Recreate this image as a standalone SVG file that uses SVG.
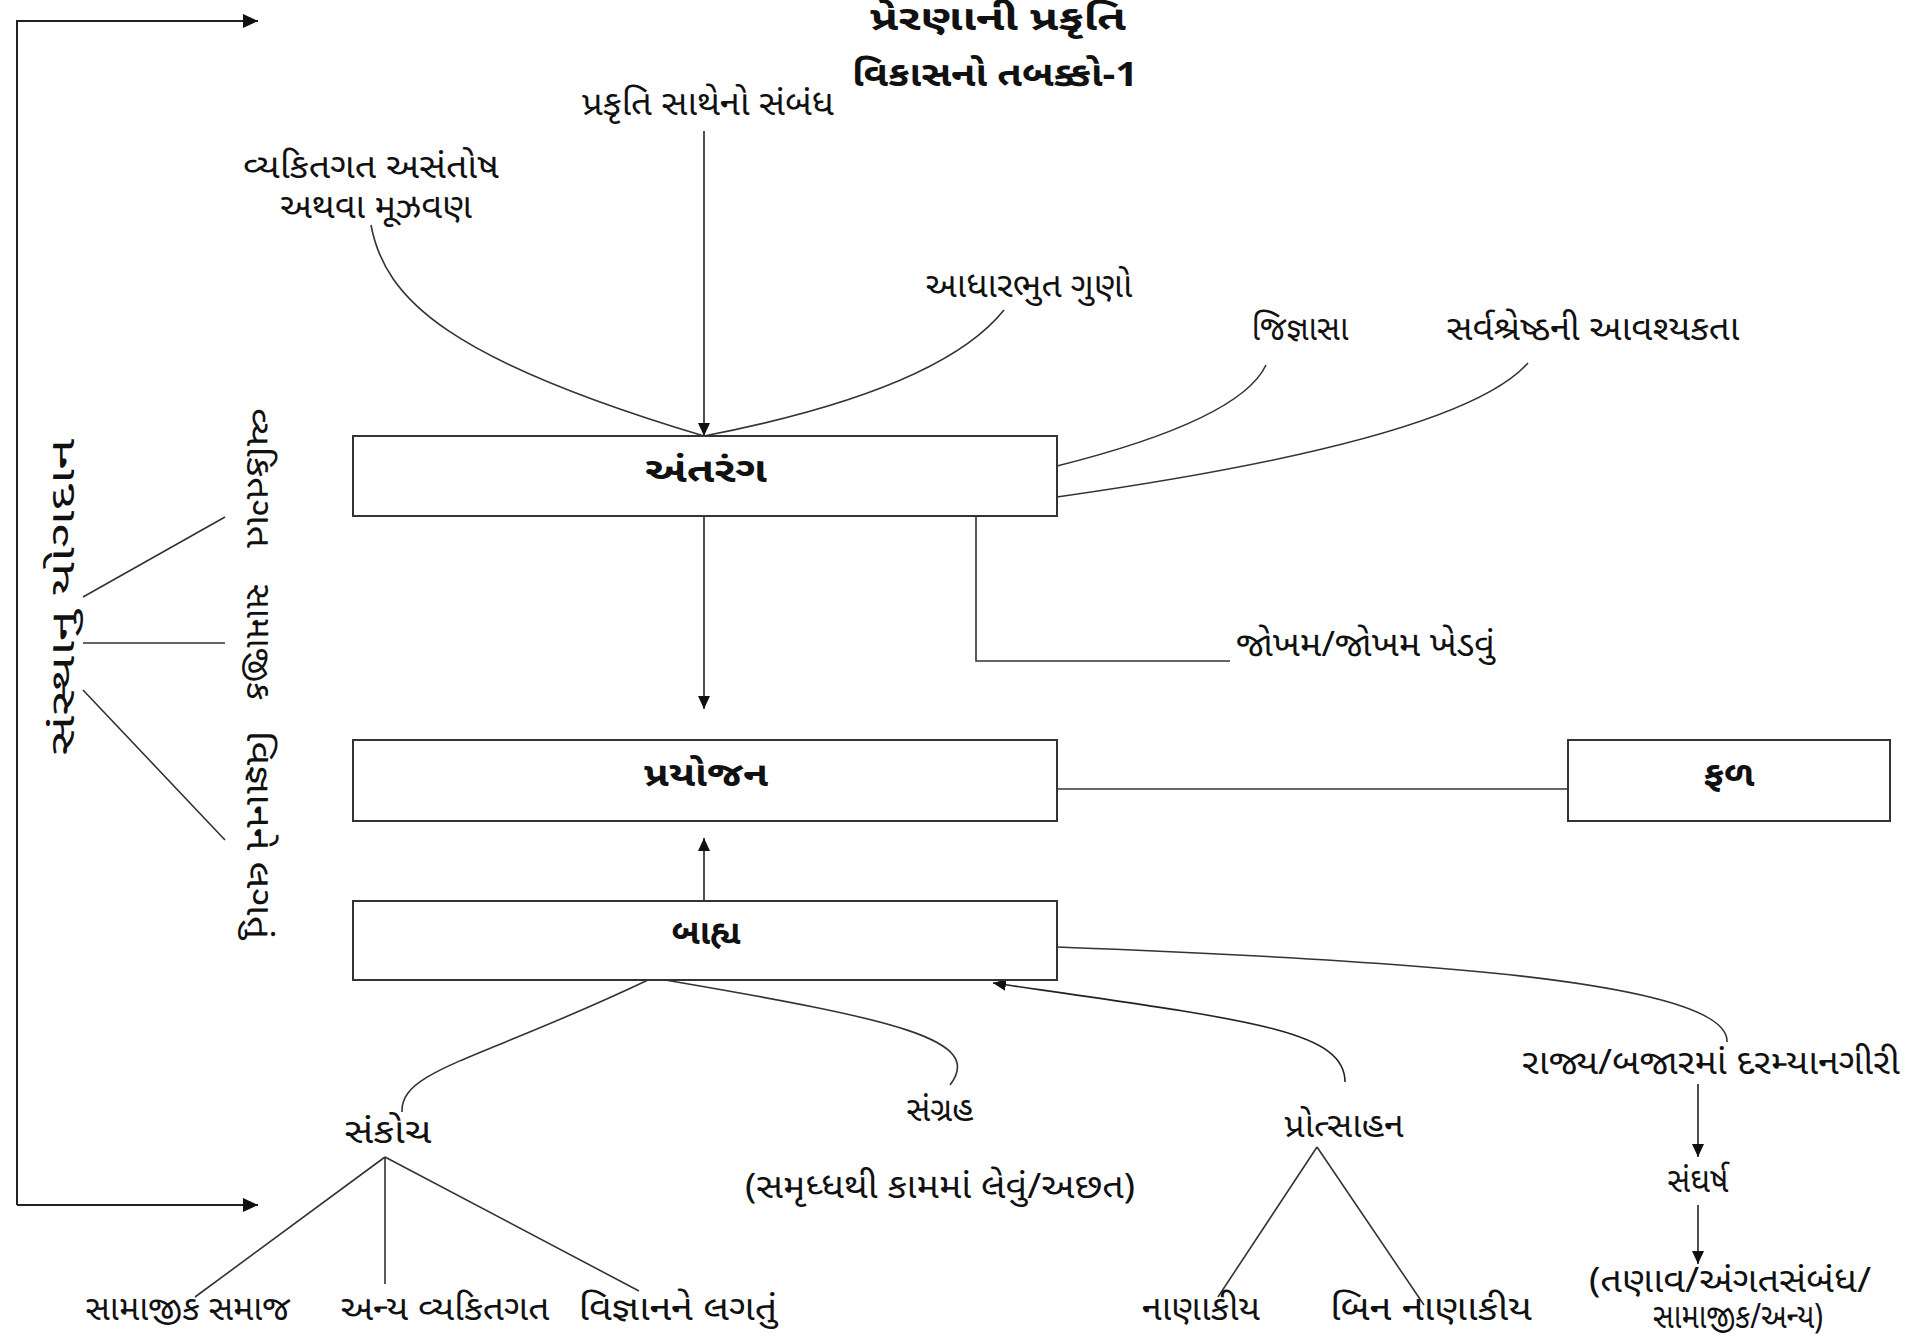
<svg xmlns="http://www.w3.org/2000/svg" width="1909" height="1344" viewBox="0 0 1909 1344">
<style>
text{font-family:"Noto Sans Gujarati","Lohit Gujarati","Noto Sans",sans-serif;fill:#111;font-size:34px}
.b{font-weight:bold}
.m{text-anchor:middle}
.box{fill:#fff;stroke:#333;stroke-width:2}
.ln{fill:none;stroke:#333;stroke-width:1.6}
.ar{fill:none;stroke:#222;stroke-width:1.6;marker-end:url(#ah)}
.ar2{fill:none;stroke:#222;stroke-width:2;marker-end:url(#ah2)}
</style>
<defs>
<marker id="ah" markerUnits="userSpaceOnUse" markerWidth="14" markerHeight="12" refX="13" refY="6" orient="auto"><path d="M0,0 L13,6 L0,12 Z" fill="#111"/></marker>
<marker id="ah2" markerUnits="userSpaceOnUse" markerWidth="16" markerHeight="14" refX="15" refY="7" orient="auto"><path d="M0,0 L15,7 L0,14 Z" fill="#111"/></marker>
</defs>
<rect width="1909" height="1344" fill="#fff"/>
<g id="title">
<text class="b m" x="998" y="30" font-size="34" textLength="256" lengthAdjust="spacingAndGlyphs">પ્રેરણાની પ્રકૃતિ</text>
<text class="b m" x="995" y="86" font-size="36" textLength="286" lengthAdjust="spacingAndGlyphs">વિકાસનો તબક્કો-1</text>
</g>
<g id="connectors">
<path class="ar2" d="M17,1205 V21 H258"/>
<path class="ar2" d="M17,1205 H258"/>
<path class="ar" d="M704,131 V436"/>
<path class="ln" d="M371,225 C385,300 450,360 704,436"/>
<path class="ln" d="M1004,310 Q940,390 704,436"/>
<path class="ln" d="M1266,365 Q1240,420 1057,466"/>
<path class="ln" d="M1528,363 Q1460,440 1057,497"/>
<path class="ln" d="M976,516 V661 H1230"/>
<path class="ar" d="M704,516 V709"/>
<path class="ln" d="M1057,789 H1568"/>
<path class="ar" d="M704,901 V838"/>
<path class="ln" d="M648,980 C480,1060 400,1070 402,1112"/>
<path class="ln" d="M665,980 C900,1020 985,1040 950,1085"/>
<path class="ar" d="M1345,1082 C1345,1030 1250,1020 993,983"/>
<path class="ln" d="M1057,947 C1400,960 1730,980 1727,1042"/>
<path class="ar" d="M1698,1084 V1157"/>
<path class="ar" d="M1698,1205 V1264"/>
<path class="ln" d="M385,1157 L195,1297 M385,1157 V1284 M385,1157 L639,1291"/>
<path class="ln" d="M1317,1147 L1218,1297 M1317,1147 L1424,1305"/>
<path class="ln" d="M83,597 L225,517 M83,643 H225 M83,690 L225,840"/>
</g>
<g id="n-antarang"><rect class="box" x="353" y="436" width="704" height="80"/><text class="b m" x="706" y="482" font-size="36" textLength="122" lengthAdjust="spacingAndGlyphs">અંતરંગ</text></g>
<g id="n-prayojan"><rect class="box" x="353" y="740" width="704" height="81"/><text class="b m" x="706" y="786" font-size="36" textLength="124" lengthAdjust="spacingAndGlyphs">પ્રયોજન</text></g>
<g id="n-bahya"><rect class="box" x="353" y="901" width="704" height="79"/><text class="b m" x="706" y="944" font-size="36" textLength="69" lengthAdjust="spacingAndGlyphs">બાહ્ય</text></g>
<g id="n-fal"><rect class="box" x="1568" y="740" width="322" height="81"/><text class="b m" x="1729" y="786" font-size="36" textLength="51" lengthAdjust="spacingAndGlyphs">ફળ</text></g>
<g id="n-sanstha"><text class="m" transform="translate(74,597) rotate(-90)" font-size="52" textLength="317" lengthAdjust="spacingAndGlyphs">સંસ્થાનુ યોગદાન</text></g>
<g id="n-vyakti-r"><text class="m" transform="translate(247,478) rotate(90)" font-size="31" textLength="140" lengthAdjust="spacingAndGlyphs">વ્યકિતગત</text></g>
<g id="n-samajik-r"><text class="m" transform="translate(247,642) rotate(90)" font-size="31" textLength="116" lengthAdjust="spacingAndGlyphs">સામાજીક</text></g>
<g id="n-vigyan-r"><text class="m" transform="translate(247,835) rotate(90)" font-size="31" textLength="209" lengthAdjust="spacingAndGlyphs">વિજ્ઞાનને લગતું</text></g>
<g id="n-prakruti"><text class="m" x="708" y="115" textLength="252" lengthAdjust="spacingAndGlyphs">પ્રકૃતિ સાથેનો સંબંધ</text></g>
<g id="n-asantosh"><text class="m" x="371" y="178" textLength="256" lengthAdjust="spacingAndGlyphs">વ્યકિતગત અસંતોષ</text><text class="m" x="376" y="218" textLength="192" lengthAdjust="spacingAndGlyphs">અથવા મૂઝવણ</text></g>
<g id="n-adhar"><text class="m" x="1029" y="297" textLength="207" lengthAdjust="spacingAndGlyphs">આધારભુત ગુણો</text></g>
<g id="n-jigyasa"><text class="m" x="1300" y="340" textLength="97" lengthAdjust="spacingAndGlyphs">જિજ્ઞાસા</text></g>
<g id="n-sarva"><text class="m" x="1593" y="340" textLength="293" lengthAdjust="spacingAndGlyphs">સર્વશ્રેષ્ઠની આવશ્યકતા</text></g>
<g id="n-jokham"><text x="1236" y="656" textLength="259" lengthAdjust="spacingAndGlyphs">જોખમ/જોખમ ખેડવું</text></g>
<g id="n-sankoch"><text class="m" x="388" y="1143" textLength="87" lengthAdjust="spacingAndGlyphs">સંકોચ</text></g>
<g id="n-sangrah"><text class="m" x="940" y="1121" textLength="67" lengthAdjust="spacingAndGlyphs">સંગ્રહ</text><text class="m" x="940" y="1198" textLength="390" lengthAdjust="spacingAndGlyphs">(સમૃધ્ધથી કામમાં લેવું/અછત)</text></g>
<g id="n-protsahan"><text class="m" x="1344" y="1137" textLength="119" lengthAdjust="spacingAndGlyphs">પ્રોત્સાહન</text></g>
<g id="n-rajya"><text class="m" x="1711" y="1074" textLength="378" lengthAdjust="spacingAndGlyphs">રાજ્ય/બજારમાં દરમ્યાનગીરી</text></g>
<g id="n-sangharsh"><text class="m" x="1698" y="1192" textLength="61" lengthAdjust="spacingAndGlyphs">સંઘર્ષ</text></g>
<g id="n-tanav"><text class="m" font-size="28"><tspan x="1730" y="1292" textLength="282" lengthAdjust="spacingAndGlyphs">(તણાવ/અંગતસંબંધ/</tspan><tspan x="1738" y="1328" textLength="170" lengthAdjust="spacingAndGlyphs">સામાજીક/અન્ય)</tspan></text></g>
<g id="n-samaj"><text class="m" x="188" y="1320" textLength="205" lengthAdjust="spacingAndGlyphs">સામાજીક સમાજ</text></g>
<g id="n-anya"><text class="m" x="445" y="1320" textLength="209" lengthAdjust="spacingAndGlyphs">અન્ય વ્યકિતગત</text></g>
<g id="n-vigyan"><text class="m" x="678" y="1320" textLength="199" lengthAdjust="spacingAndGlyphs">વિજ્ઞાનને લગતું</text></g>
<g id="n-nanakiya"><text class="m" x="1201" y="1320" textLength="118" lengthAdjust="spacingAndGlyphs">નાણાકીય</text></g>
<g id="n-bin"><text class="m" x="1431" y="1320" textLength="202" lengthAdjust="spacingAndGlyphs">બિન નાણાકીય</text></g>
</svg>
